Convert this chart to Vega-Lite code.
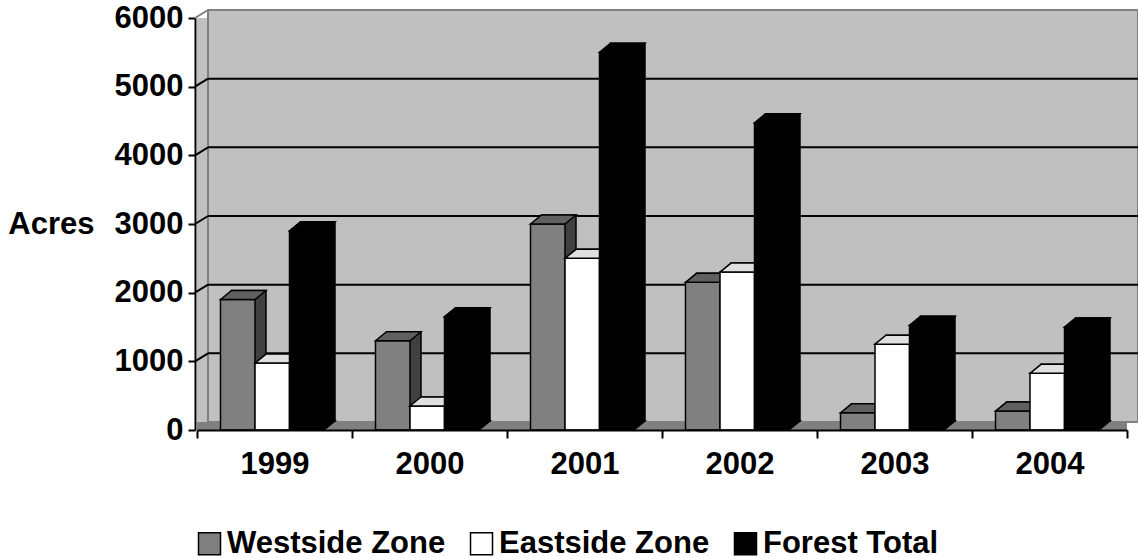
{
  "$schema": "https://vega.github.io/schema/vega-lite/v6.json",
  "width": 930,
  "height": 412,
  "autosize": {"type": "none"},
  "padding": {"left": 197, "top": 18, "right": 11, "bottom": 129},
  "background": "white",
  "view": {"fill": "#c0c0c0", "stroke": null},
  "config": {
    "font": "Liberation Sans",
    "axisX": {
      "domainColor": "#000", "domainWidth": 2, "tickColor": "#000", "tickWidth": 2, "tickSize": 8,
      "tickBand": "extent", "labelFont": "Liberation Sans", "labelFontSize": 31, "labelFontWeight": "bold",
      "labelColor": "#000", "labelPadding": 11, "labelAngle": 0, "grid": false
    },
    "axisY": {
      "domainColor": "#000", "domainWidth": 2, "tickColor": "#000", "tickWidth": 2, "tickSize": 7,
      "labelFont": "Liberation Sans", "labelFontSize": 31, "labelFontWeight": "bold", "labelColor": "#000",
      "labelPadding": 5, "grid": false, "offset": 2, "format": "d", "tickCount": 6,
      "titleAngle": 0, "titleFont": "Liberation Sans", "titleFontSize": 31, "titleFontWeight": "bold",
      "titleColor": "#000", "titleX": -101, "titleY": 206, "titleAlign": "right", "titleBaseline": "middle"
    }
  },
  "datasets": {
    "acres": [
      {"year": "1999", "series": "Westside Zone", "acres": 1900},
      {"year": "1999", "series": "Eastside Zone", "acres": 975},
      {"year": "1999", "series": "Forest Total", "acres": 2900},
      {"year": "2000", "series": "Westside Zone", "acres": 1300},
      {"year": "2000", "series": "Eastside Zone", "acres": 350},
      {"year": "2000", "series": "Forest Total", "acres": 1650},
      {"year": "2001", "series": "Westside Zone", "acres": 3000},
      {"year": "2001", "series": "Eastside Zone", "acres": 2500},
      {"year": "2001", "series": "Forest Total", "acres": 5500},
      {"year": "2002", "series": "Westside Zone", "acres": 2150},
      {"year": "2002", "series": "Eastside Zone", "acres": 2300},
      {"year": "2002", "series": "Forest Total", "acres": 4475},
      {"year": "2003", "series": "Westside Zone", "acres": 250},
      {"year": "2003", "series": "Eastside Zone", "acres": 1250},
      {"year": "2003", "series": "Forest Total", "acres": 1525},
      {"year": "2004", "series": "Westside Zone", "acres": 275},
      {"year": "2004", "series": "Eastside Zone", "acres": 825},
      {"year": "2004", "series": "Forest Total", "acres": 1500}
    ],
    "gridlines": [{"v": 1000}, {"v": 2000}, {"v": 3000}, {"v": 4000}, {"v": 5000}],
    "wall": [{"part": "wall"}]
  },
  "data": {"name": "acres"},
  "resolve": {"scale": {"xOffset": "independent"}},
  "layer": [
    {
      "data": {"name": "wall"},
      "mark": {"type": "rect", "fill": "#c0c0c0", "stroke": "#808080", "strokeWidth": 2,
               "xOffset": 11, "x2Offset": 88.5, "yOffset": -8, "y2Offset": -8},
      "encoding": {
        "x": {"datum": "1999", "bandPosition": 0, "type": "nominal",
              "scale": {"domain": ["1999", "2000", "2001", "2002", "2003", "2004"], "paddingInner": 0, "paddingOuter": 0}},
        "x2": {"datum": "2004"},
        "y": {"datum": 6000, "type": "quantitative", "scale": {"domain": [0, 6000], "nice": false}},
        "y2": {"datum": 0}
      }
    },
    {
      "data": {"name": "wall"},
      "mark": {"type": "rect", "fill": "#808080", "x2Offset": 11, "y2Offset": -8},
      "encoding": {
        "y": {"datum": 0, "type": "quantitative"},
        "y2": {"datum": 0}
      }
    },
    {
      "data": {"name": "wall"},
      "mark": {"type": "rule", "stroke": "#808080", "strokeWidth": 2, "xOffset": -2, "x2Offset": -66.5, "y2Offset": -8},
      "encoding": {
        "x": {"datum": "1999", "bandPosition": 0, "type": "nominal"},
        "x2": {"datum": "1999"},
        "y": {"datum": 6000, "type": "quantitative"},
        "y2": {"datum": 6000}
      }
    },
    {
      "data": {"name": "gridlines"},
      "mark": {"type": "rule", "stroke": "#000", "strokeWidth": 2, "xOffset": 11, "x2Offset": 88.5, "yOffset": -8},
      "encoding": {
        "x": {"datum": "1999", "bandPosition": 0, "type": "nominal"},
        "x2": {"datum": "2004"},
        "y": {"field": "v", "type": "quantitative", "title": "Acres"}
      }
    },
    {
      "data": {"name": "gridlines"},
      "mark": {"type": "rule", "stroke": "#000", "strokeWidth": 2, "xOffset": -2, "x2Offset": -66.5, "y2Offset": -8},
      "encoding": {
        "x": {"datum": "1999", "bandPosition": 0, "type": "nominal"},
        "x2": {"datum": "1999"},
        "y": {"field": "v", "type": "quantitative", "title": "Acres"},
        "y2": {"field": "v"}
      }
    },

    {
      "transform": [{"filter": "datum.series === 'Westside Zone'"}],
      "mark": {"type": "bar", "fill": "#404040", "stroke": "#000", "strokeWidth": 1.5, "yOffset": -9, "y2Offset": -9},
      "encoding": {
        "x": {"field": "year", "type": "nominal", "title": null},
        "xOffset": {"field": "series", "scale": {"type": "band", "domain": ["Westside Zone", "Eastside Zone", "Forest Total"], "range": [34.5, 138], "paddingInner": 0, "paddingOuter": 0}},
        "y": {"field": "acres", "type": "quantitative", "title": "Acres"}
      }
    },
    {
      "transform": [{"filter": "datum.series === 'Westside Zone'"}],
      "mark": {"type": "bar", "stroke": "#000", "strokeWidth": 1.5},
      "encoding": {
        "x": {"field": "year", "type": "nominal", "title": null},
        "xOffset": {"field": "series", "scale": {"type": "band", "domain": ["Westside Zone", "Eastside Zone", "Forest Total"], "range": [23.5, 127], "paddingInner": 0, "paddingOuter": 0}},
        "y": {"field": "acres", "type": "quantitative", "title": "Acres"},
        "fill": {
          "field": "series", "type": "nominal",
          "scale": {"domain": ["Westside Zone", "Eastside Zone", "Forest Total"], "range": ["#808080", "#ffffff", "#000000"]},
          "legend": {
            "orient": "none", "legendX": -3, "legendY": 510, "direction": "horizontal", "title": null,
            "symbolType": "square", "symbolSize": 484, "symbolStrokeColor": "#000", "symbolStrokeWidth": 1.5,
            "symbolOpacity": 1, "labelFont": "Liberation Sans", "labelFontSize": 31, "labelFontWeight": "bold",
            "labelColor": "#000", "labelOffset": 2, "labelLimit": 400, "columnPadding": 20, "padding": 0
          }
        }
      }
    },
    {
      "transform": [{"filter": "datum.series === 'Westside Zone'"}],
      "mark": {"type": "point", "shape": "M0,0L11,-9L45.5,-9L34.5,0Z", "size": 4, "filled": true,
               "fill": "#606060", "stroke": "#000", "strokeWidth": 1.5, "opacity": 1},
      "encoding": {
        "x": {"field": "year", "type": "nominal", "title": null},
        "xOffset": {"field": "series", "scale": {"type": "point", "domain": ["Westside Zone", "Eastside Zone", "Forest Total"], "range": [23.5, 92.5], "padding": 0}},
        "y": {"field": "acres", "type": "quantitative", "title": "Acres"}
      }
    },

    {
      "transform": [{"filter": "datum.series === 'Eastside Zone'"}],
      "mark": {"type": "bar", "fill": "#c0c0c0", "stroke": "#000", "strokeWidth": 1.5, "yOffset": -9, "y2Offset": -9},
      "encoding": {
        "x": {"field": "year", "type": "nominal", "title": null},
        "xOffset": {"field": "series", "scale": {"type": "band", "domain": ["Westside Zone", "Eastside Zone", "Forest Total"], "range": [34.5, 138], "paddingInner": 0, "paddingOuter": 0}},
        "y": {"field": "acres", "type": "quantitative", "title": "Acres"}
      }
    },
    {
      "transform": [{"filter": "datum.series === 'Eastside Zone'"}],
      "mark": {"type": "bar", "fill": "#ffffff", "stroke": "#000", "strokeWidth": 1.5},
      "encoding": {
        "x": {"field": "year", "type": "nominal", "title": null},
        "xOffset": {"field": "series", "scale": {"type": "band", "domain": ["Westside Zone", "Eastside Zone", "Forest Total"], "range": [23.5, 127], "paddingInner": 0, "paddingOuter": 0}},
        "y": {"field": "acres", "type": "quantitative", "title": "Acres"}
      }
    },
    {
      "transform": [{"filter": "datum.series === 'Eastside Zone'"}],
      "mark": {"type": "point", "shape": "M0,0L11,-9L45.5,-9L34.5,0Z", "size": 4, "filled": true,
               "fill": "#e0e0e0", "stroke": "#000", "strokeWidth": 1.5, "opacity": 1},
      "encoding": {
        "x": {"field": "year", "type": "nominal", "title": null},
        "xOffset": {"field": "series", "scale": {"type": "point", "domain": ["Westside Zone", "Eastside Zone", "Forest Total"], "range": [23.5, 92.5], "padding": 0}},
        "y": {"field": "acres", "type": "quantitative", "title": "Acres"}
      }
    },

    {
      "transform": [{"filter": "datum.series === 'Forest Total'"}],
      "mark": {"type": "bar", "fill": "#000000", "stroke": "#000", "strokeWidth": 1.5, "yOffset": -9, "y2Offset": -9},
      "encoding": {
        "x": {"field": "year", "type": "nominal", "title": null},
        "xOffset": {"field": "series", "scale": {"type": "band", "domain": ["Westside Zone", "Eastside Zone", "Forest Total"], "range": [34.5, 138], "paddingInner": 0, "paddingOuter": 0}},
        "y": {"field": "acres", "type": "quantitative", "title": "Acres"}
      }
    },
    {
      "transform": [{"filter": "datum.series === 'Forest Total'"}],
      "mark": {"type": "point", "shape": "M34.5,0L34.5,-9L45.5,-9Z", "size": 4, "filled": true,
               "fill": "#000000", "stroke": "#000", "strokeWidth": 1.5, "opacity": 1},
      "encoding": {
        "x": {"field": "year", "type": "nominal", "title": null},
        "xOffset": {"field": "series", "scale": {"type": "point", "domain": ["Westside Zone", "Eastside Zone", "Forest Total"], "range": [23.5, 92.5], "padding": 0}},
        "y": {"datum": 0, "type": "quantitative"}
      }
    },
    {
      "transform": [{"filter": "datum.series === 'Forest Total'"}],
      "mark": {"type": "bar", "fill": "#000000", "stroke": "#000", "strokeWidth": 1.5},
      "encoding": {
        "x": {"field": "year", "type": "nominal", "title": null},
        "xOffset": {"field": "series", "scale": {"type": "band", "domain": ["Westside Zone", "Eastside Zone", "Forest Total"], "range": [23.5, 127], "paddingInner": 0, "paddingOuter": 0}},
        "y": {"field": "acres", "type": "quantitative", "title": "Acres"}
      }
    },
    {
      "transform": [{"filter": "datum.series === 'Forest Total'"}],
      "mark": {"type": "point", "shape": "M0,0L11,-9L45.5,-9L34.5,0Z", "size": 4, "filled": true,
               "fill": "#000000", "stroke": "#000", "strokeWidth": 1.5, "opacity": 1},
      "encoding": {
        "x": {"field": "year", "type": "nominal", "title": null},
        "xOffset": {"field": "series", "scale": {"type": "point", "domain": ["Westside Zone", "Eastside Zone", "Forest Total"], "range": [23.5, 92.5], "padding": 0}},
        "y": {"field": "acres", "type": "quantitative", "title": "Acres"}
      }
    }
  ]
}
